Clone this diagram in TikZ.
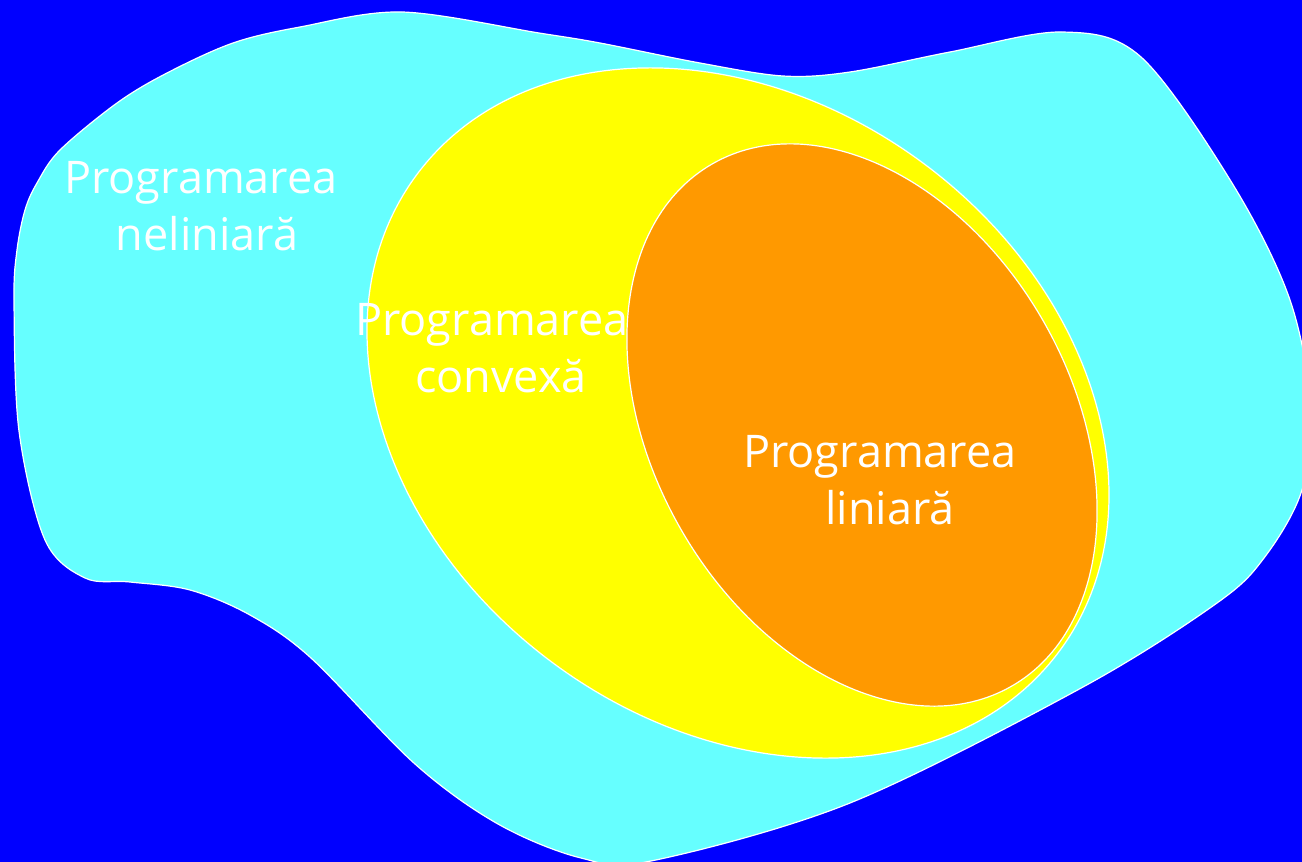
\documentclass[tikz,border=0pt]{standalone}
\usepackage{fontspec}
\setmainfont{Open Sans}
\definecolor{bgblue}{HTML}{0000FF}
\definecolor{cyanset}{HTML}{66FFFF}
\definecolor{yellowset}{HTML}{FFFF00}
\definecolor{orangeset}{HTML}{FF9900}
\tikzset{
  region/.style={draw=white, line width=1.2pt},
  lbl/.style={text=white, font=\fontsize{45}{58}\selectfont, anchor=base, inner sep=0pt}
}
\begin{document}
\begin{tikzpicture}[x=1pt,y=-1pt]
\useasboundingbox (0,0) rectangle (1302,862);
\clip (0,0) rectangle (1302,862);
\fill[bgblue] (0,0) rectangle (1302,862);
% nonlinear programming region
\draw[region, fill=cyanset] plot[smooth cycle, tension=0.55] coordinates {
  (37,183) (60,150) (117,103) (167,73) (233,43) (300,27) (402,12) (539,33)
  (600,43) (700,63) (783,76) (850,72) (950,52) (1062,32) (1141,57) (1232,183)
  (1290,300) (1312,415) (1301,493) (1264,558) (1217,603)
  (1083,687) (850,803) (651,861) (581,858)
  (498,824) (415,764) (311,658) (250,615) (190,590) (130,582) (85,578)
  (45,540) (19,431) (14,300) (17,250) (25,210)};
% convex programming region
\draw[region, fill=yellowset, rotate around={-36.5:(738,413)}] (738,413) ellipse [x radius=400, y radius=311];
% linear programming region
\draw[region, fill=orangeset, rotate around={-60.2:(862,425)}] (862,425) ellipse [x radius=301, y radius=209];
% labels
\node[lbl] (nl1) at (201,193) {Programarea};
\node[lbl] (nl2) at (207,250) {neliniară};
\node[lbl] (cv1) at (492,335) {Programarea};
\node[lbl] (cv2) at (501,392) {convexă};
\node[lbl] (ln1) at (880,467) {Programarea};
\node[lbl] (ln2) at (890,524) {liniară};
\end{tikzpicture}
\end{document}
